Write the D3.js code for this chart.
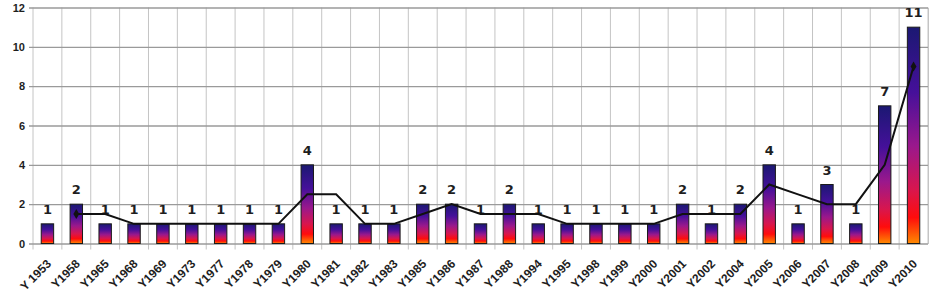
<!DOCTYPE html>
<html>
<head>
<meta charset="utf-8">
<script src="https://cdn.jsdelivr.net/npm/d3@7"></script>
<style>
  body { margin: 0; background: #fff; }
  svg { display: block; font-family: "DejaVu Sans", Verdana, sans-serif; }
</style>
</head>
<body>
<div id="chart-area"></div>
<script>
// categories (years) and counts
var years = ["Y 1953", "Y1958", "Y1965", "Y1968", "Y1969", "Y1973", "Y1977", "Y1978", "Y1979", "Y1980",
             "Y1981", "Y1982", "Y1983", "Y1985", "Y1986", "Y1987", "Y1988", "Y1994", "Y1995", "Y1998",
             "Y1999", "Y2000", "Y2001", "Y2002", "Y2004", "Y2005", "Y2006", "Y2007", "Y2008", "Y2009", "Y2010"];
var counts = [1, 2, 1, 1, 1, 1, 1, 1, 1, 4,
              1, 1, 1, 2, 2, 1, 2, 1, 1, 1,
              1, 1, 2, 1, 2, 4, 1, 3, 1, 7, 11];
// trend line (2 period moving average)
var trend = [null, 1.5, 1.5, 1, 1, 1, 1, 1, 1, 2.5,
             2.5, 1, 1, 1.5, 2, 1.5, 1.5, 1.5, 1, 1,
             1, 1, 1.5, 1.5, 1.5, 3, 2.5, 2, 2, 4, 9];
var yTicks = [0, 2, 4, 6, 8, 10, 12];

var width = 943, height = 299;
var plotLeft = 33, plotRight = 928, plotTop = 7.5, plotBottom = 243.5;

var svg = d3.select("#chart-area").append("svg")
    .attr("width", width)
    .attr("height", height);

// gradient for the bars
var grad = svg.append("defs").append("linearGradient")
    .attr("id", "barGrad")
    .attr("x1", 0).attr("y1", 0).attr("x2", 0).attr("y2", 1);
[[0, "#1b1872"], [0.3, "#45109a"], [0.55, "#9a188c"], [0.75, "#d8164e"],
 [0.88, "#ff0c0c"], [1, "#ff8a00"]].forEach(function(s) {
    grad.append("stop").attr("offset", s[0]).attr("stop-color", s[1]);
});

var x = d3.scaleBand()
    .domain(years)
    .range([plotLeft, plotRight])
    .paddingInner(0.57)
    .paddingOuter(0.285);

var y = d3.scaleLinear()
    .domain([0, 12])
    .range([plotBottom, plotTop]);

// vertical grid lines between categories
var bounds = d3.range(years.length + 1).map(function(i) { return plotLeft + i * x.step(); });
svg.append("g").selectAll("line")
    .data(bounds)
    .enter().append("line")
        .attr("x1", d => d).attr("x2", d => d)
        .attr("y1", plotTop).attr("y2", (d, i) => i === years.length ? plotBottom : plotBottom + 6)
        .attr("stroke", "#c4c4c4")
        .attr("stroke-width", 1);

// y axis + horizontal grid
var yAxis = svg.append("g")
    .attr("transform", "translate(" + plotRight + ",0)")
    .call(d3.axisLeft(y).tickValues(yTicks).tickSize(plotRight - plotLeft + 4).tickSizeOuter(0).tickPadding(4));
yAxis.select(".domain").attr("stroke", "#c4c4c4");
yAxis.selectAll(".tick line").attr("stroke", "#9a9a9a").attr("stroke-width", 1.3);
yAxis.selectAll(".tick text")
    .attr("fill", "#1e1e1e")
    .style("font-size", "11px")
    .style("font-weight", "bold");

// bars
svg.append("g").selectAll("rect")
    .data(counts)
    .enter().append("rect")
        .attr("x", (d, i) => x(years[i]))
        .attr("y", d => y(d))
        .attr("width", x.bandwidth())
        .attr("height", d => y(0) - y(d))
        .attr("fill", "url(#barGrad)")
        .attr("stroke", "#1a1a1a")
        .attr("stroke-width", 1);

// value labels
svg.append("g").selectAll("text")
    .data(counts)
    .enter().append("text")
        .attr("x", (d, i) => x(years[i]) + x.bandwidth() / 2)
        .attr("y", d => y(d) - 10)
        .attr("text-anchor", "middle")
        .attr("fill", "#1e1e1e")
        .style("font-size", "13px")
        .style("font-weight", "bold")
        .text(d => d);

// trend line
var pts = trend.map(function(v, i) { return [years[i], v]; }).filter(p => p[1] !== null);
var line = d3.line()
    .x(p => x(p[0]) + x.bandwidth() / 2)
    .y(p => y(p[1]));
svg.append("path")
    .datum(pts)
    .attr("d", line)
    .attr("fill", "none")
    .attr("stroke", "#111")
    .attr("stroke-width", 2);
svg.append("g").selectAll("path")
    .data([pts[0], pts[pts.length - 1]])
    .enter().append("path")
        .attr("d", d3.symbol().type(d3.symbolDiamond).size(30))
        .attr("transform", p => "translate(" + (x(p[0]) + x.bandwidth() / 2) + "," + y(p[1]) + ")")
        .attr("fill", "#111");

// x axis labels
var xAxis = svg.append("g")
    .attr("transform", "translate(0," + plotBottom + ")")
    .call(d3.axisBottom(x).tickSize(0).tickSizeOuter(0));
xAxis.select(".domain").remove();
xAxis.selectAll(".tick text")
    .attr("x", 0).attr("y", 0).attr("dy", null)
    .attr("transform", "translate(4.5,21) rotate(-45)")
    .style("text-anchor", "end")
    .attr("fill", "#1e1e1e")
    .style("font-size", "12px")
    .style("font-weight", "bold");
</script>
</body>
</html>
